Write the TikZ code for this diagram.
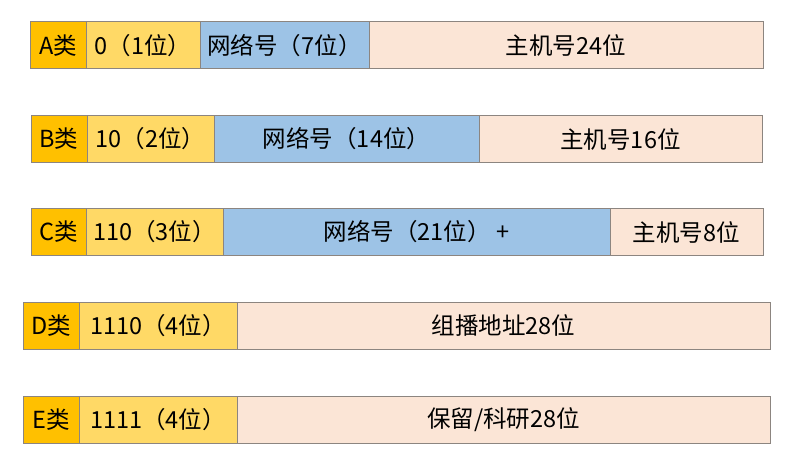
\documentclass[tikz,border=0pt]{standalone}
\usepackage{fontspec}
\setmainfont{Noto Sans CJK SC}
\usetikzlibrary{positioning}
\definecolor{clsgold}{HTML}{FFC000}
\definecolor{preyellow}{HTML}{FFD966}
\definecolor{netblue}{HTML}{9DC3E6}
\definecolor{hostpink}{HTML}{FBE5D6}
\definecolor{edgegray}{HTML}{8C8580}
\tikzset{field/.style={draw=edgegray, line width=1pt, minimum height=47pt,
           inner sep=0pt, outer sep=0pt, anchor=west,
           font=\fontsize{23.5}{23.5}\selectfont},
         cls/.style={field, fill=clsgold},
         pre/.style={field, fill=preyellow},
         net/.style={field, fill=netblue},
         host/.style={field, fill=hostpink}
}

\begin{document}
\begin{tikzpicture}[x=1pt,y=-1pt,node distance=0pt]
  \useasboundingbox (0,0) rectangle (793,454);
  % A
  \node[cls, minimum width=56pt] (a0) at (30,45.5) {A类};
  \node[pre, minimum width=114pt, right=of a0] (a1) {0（1位）};
  \node[net, minimum width=169pt, right=of a1] (a2) {网络号（7位）};
  \node[host, minimum width=394pt, right=of a2] (a3) {主机号24位};
  % B
  \node[cls, minimum width=56pt] (b0) at (31,139) {B类};
  \node[pre, minimum width=127pt, right=of b0] (b1) {10（2位）};
  \node[net, minimum width=265pt, right=of b1] (b2) {网络号（14位）};
  \node[host, minimum width=283pt, right=of b2] (b3) {主机号16位};
  % C
  \node[cls, minimum width=55pt] (c0) at (31,232) {C类};
  \node[pre, minimum width=137pt, right=of c0] (c1) {110（3位）};
  \node[net, minimum width=387pt, right=of c1] (c2) {网络号（21位） +};
  \node[host, minimum width=153pt, right=of c2] (c3) {主机号8位};
  % D
  \node[cls, minimum width=56pt] (d0) at (23,326) {D类};
  \node[pre, minimum width=158pt, right=of d0] (d1) {1110（4位）};
  \node[host, minimum width=533pt, right=of d1] (d2) {组播地址28位};
  % E
  \node[cls, minimum width=56pt] (e0) at (23,420) {E类};
  \node[pre, minimum width=158pt, right=of e0] (e1) {1111（4位）};
  \node[host, minimum width=533pt, right=of e1] (e2) {保留/科研28位};
\end{tikzpicture}
\end{document}
